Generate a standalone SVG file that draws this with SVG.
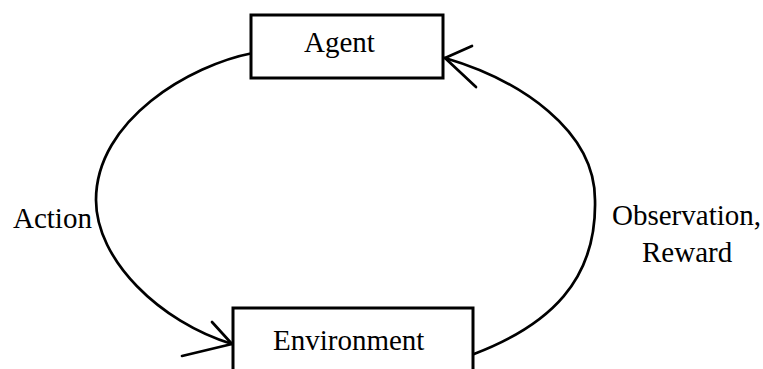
<svg xmlns="http://www.w3.org/2000/svg" width="763" height="369" viewBox="0 0 763 369">
<style>
.box{fill:#fff;stroke:#000;stroke-width:3}
.lbl{font-family:"Liberation Serif","Times New Roman",serif;font-size:29px;fill:#000}
.conn{fill:none;stroke:#000;stroke-width:2.7;stroke-linecap:round;stroke-linejoin:round}
</style>
<rect width="763" height="369" fill="#fff"/>
<g id="connectors">
<path class="conn" d="M253,53 C190,65 96,120 96,200 C96,260 160,322 232,344"/>
<path class="conn" d="M212,322 L232,344 L182,356"/>
<path class="conn" d="M474,354 C550,325 597,280 595,200 C595,130 520,80 445,58"/>
<path class="conn" d="M472,46 L445,58 L476,87"/>
</g>
<g id="agent">
<rect class="box" x="251" y="15" width="192" height="63"/>
<text class="lbl" x="304" y="52">Agent</text>
</g>
<g id="environment">
<rect class="box" x="233" y="308" width="240" height="80"/>
<text class="lbl" x="273" y="350">Environment</text>
</g>
<g id="labels">
<text class="lbl" x="13" y="228">Action</text>
<text class="lbl" x="612" y="225">Observation,</text>
<text class="lbl" x="642" y="262">Reward</text>
</g>
</svg>
